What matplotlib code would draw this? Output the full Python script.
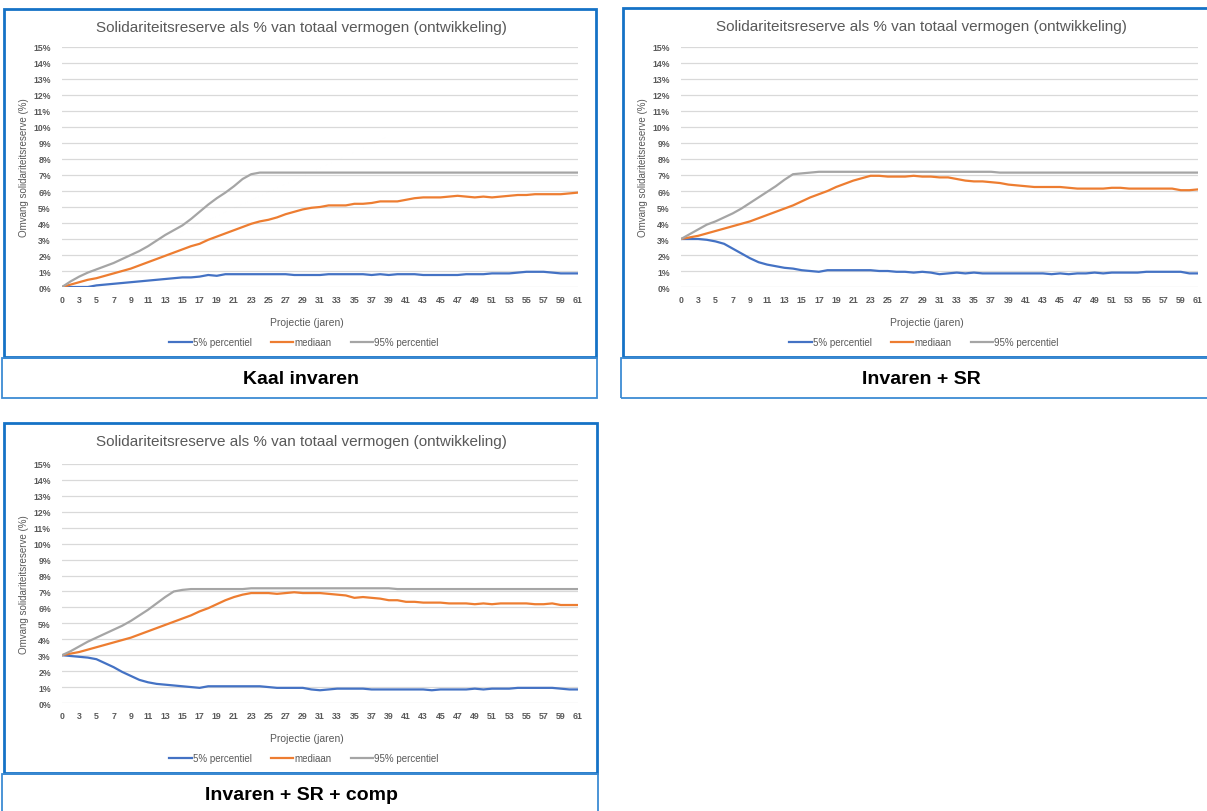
import numpy as np
import matplotlib
matplotlib.use("Agg")
import matplotlib.pyplot as plt
from matplotlib.patches import Rectangle
from matplotlib.lines import Line2D

plt.rcParams['font.family'] = ['Liberation Sans', 'DejaVu Sans']

W, H = 1207, 812

# categories (61 points), labelled every second one
x_labels = ['0'] + [str(v) for v in range(3, 62, 2)]
n = 61

# Kaal invaren
p5_kaal = [0, 0, 0, 0, 0.1, 0.15, 0.2, 0.25, 0.3, 0.35, 0.4, 0.45, 0.5, 0.55, 0.6, 0.6,
           0.65, 0.75, 0.7, 0.8, 0.8, 0.8, 0.8, 0.8, 0.8, 0.8, 0.8, 0.75, 0.75, 0.75, 0.75,
           0.8, 0.8, 0.8, 0.8, 0.8, 0.75, 0.8, 0.75, 0.8, 0.8, 0.8, 0.75, 0.75, 0.75, 0.75,
           0.75, 0.8, 0.8, 0.8, 0.85, 0.85, 0.85, 0.9, 0.95, 0.95, 0.95, 0.9, 0.85, 0.85, 0.85]
med_kaal = [0, 0.15, 0.3, 0.45, 0.55, 0.7, 0.85, 1.0, 1.15, 1.35, 1.55, 1.75, 1.95, 2.15,
            2.35, 2.55, 2.7, 2.95, 3.15, 3.35, 3.55, 3.75, 3.95, 4.1, 4.2, 4.35, 4.55, 4.7,
            4.85, 4.95, 5.0, 5.1, 5.1, 5.1, 5.2, 5.2, 5.25, 5.35, 5.35, 5.35, 5.45, 5.55,
            5.6, 5.6, 5.6, 5.65, 5.7, 5.65, 5.6, 5.65, 5.6, 5.65, 5.7, 5.75, 5.75, 5.8,
            5.8, 5.8, 5.8, 5.85, 5.9]
p95_kaal = [0, 0.35, 0.65, 0.9, 1.1, 1.3, 1.5, 1.75, 2.0, 2.25, 2.55, 2.9, 3.25, 3.55,
            3.85, 4.25, 4.7, 5.15, 5.55, 5.9, 6.3, 6.75, 7.05] + [7.15] * 38

# Invaren + SR
p5_sr = [3.0, 3.0, 3.0, 2.95, 2.85, 2.7, 2.4, 2.1, 1.8, 1.55, 1.4, 1.3, 1.2, 1.15, 1.05,
         1.0, 0.95, 1.05, 1.05, 1.05, 1.05, 1.05, 1.05, 1.0, 1.0, 0.95, 0.95, 0.9, 0.95,
         0.9, 0.8, 0.85, 0.9, 0.85, 0.9, 0.85, 0.85, 0.85, 0.85, 0.85, 0.85, 0.85, 0.85,
         0.8, 0.85, 0.8, 0.85, 0.85, 0.9, 0.85, 0.9, 0.9, 0.9, 0.9, 0.95, 0.95, 0.95,
         0.95, 0.95, 0.85, 0.85]
med_sr = [3.0, 3.1, 3.2, 3.35, 3.5, 3.65, 3.8, 3.95, 4.1, 4.3, 4.5, 4.7, 4.9, 5.1, 5.35,
          5.6, 5.8, 6.0, 6.25, 6.45, 6.65, 6.8, 6.95, 6.95, 6.9, 6.9, 6.9, 6.95, 6.9, 6.9,
          6.85, 6.85, 6.75, 6.65, 6.6, 6.6, 6.55, 6.5, 6.4, 6.35, 6.3, 6.25, 6.25, 6.25,
          6.25, 6.2, 6.15, 6.15, 6.15, 6.15, 6.2, 6.2, 6.15, 6.15, 6.15, 6.15, 6.15, 6.15,
          6.05, 6.05, 6.1]
p95_sr = [3.0, 3.3, 3.6, 3.9, 4.1, 4.35, 4.6, 4.9, 5.25, 5.6, 5.95, 6.3, 6.7, 7.05, 7.1,
          7.15] + [7.2] * 21 + [7.15] * 24

# Invaren + SR + comp
p5_comp = [3.0, 2.95, 2.9, 2.85, 2.75, 2.5, 2.25, 1.95, 1.7, 1.45, 1.3, 1.2, 1.15, 1.1,
           1.05, 1.0, 0.95, 1.05, 1.05, 1.05, 1.05, 1.05, 1.05, 1.05, 1.0, 0.95, 0.95,
           0.95, 0.95, 0.85, 0.8, 0.85, 0.9, 0.9, 0.9, 0.9, 0.85, 0.85, 0.85, 0.85, 0.85,
           0.85, 0.85, 0.8, 0.85, 0.85, 0.85, 0.85, 0.9, 0.85, 0.9, 0.9, 0.9, 0.95, 0.95,
           0.95, 0.95, 0.95, 0.9, 0.85, 0.85]
med_comp = [3.0, 3.1, 3.2, 3.35, 3.5, 3.65, 3.8, 3.95, 4.1, 4.3, 4.5, 4.7, 4.9, 5.1, 5.3,
            5.5, 5.75, 5.95, 6.2, 6.45, 6.65, 6.8, 6.9, 6.9, 6.9, 6.85, 6.9, 6.95, 6.9,
            6.9, 6.9, 6.85, 6.8, 6.75, 6.6, 6.65, 6.6, 6.55, 6.45, 6.45, 6.35, 6.35, 6.3,
            6.3, 6.3, 6.25, 6.25, 6.25, 6.2, 6.25, 6.2, 6.25, 6.25, 6.25, 6.25, 6.2, 6.2,
            6.25, 6.15, 6.15, 6.15]
p95_comp = [3.0, 3.25, 3.55, 3.85, 4.1, 4.35, 4.6, 4.85, 5.15, 5.5, 5.85, 6.25, 6.65,
            7.0, 7.1, 7.15] + [7.15] * 6 + [7.2] * 17 + [7.15] * 22

series_names = ['5% percentiel', 'mediaan', '95% percentiel']
colors = ['#4472C4', '#ED7D31', '#A5A5A5']
captions = ['Kaal invaren', 'Invaren + SR', 'Invaren + SR + comp']
title = 'Solidariteitsreserve als % van totaal vermogen (ontwikkeling)'
ylabel = 'Omvang solidariteitsreserve (%)'
xlabel = 'Projectie (jaren)'

text_col = '#595959'
border_col = '#1572C6'


def fx(x):
    return x / W


def fy(y):
    return 1 - y / H


def box(fig, l, t, r, b, lw, col):
    fig.patches.append(Rectangle((fx(l), fy(b)), fx(r - l), (b - t) / H, fill=False,
                                 edgecolor=col, linewidth=lw, transform=fig.transFigure))


fig = plt.figure(figsize=(W / 100, H / 100), dpi=100)

# pixel layout: x of first point, x of last point, y of 0%, y of 15%,
# box left, box top, box right, centre of title/caption
panels = [
    (62, 578, 288, 48, 4, 10, 596, 301, (p5_kaal, med_kaal, p95_kaal)),
    (681, 1198, 288, 48, 623, 9, 1215, 921, (p5_sr, med_sr, p95_sr)),
    (62, 578, 704, 465, 4, 424, 597, 301, (p5_comp, med_comp, p95_comp)),
]

for k, (x0, x1, y0, y15, bl, bt, br, cx, data) in enumerate(panels):
    ax = fig.add_axes([fx(x0), fy(y0), (x1 - x0) / W, (y0 - y15) / H])
    xs = np.arange(n)
    for vals, c, name in zip(data, colors, series_names):
        ax.plot(xs, vals, color=c, lw=1.6, label=name, solid_capstyle='round')
    ax.set_xlim(0, n - 1)
    ax.set_ylim(0, 15)
    ax.set_yticks(range(16))
    ax.set_yticklabels([f'{v}%' for v in range(16)])
    ax.set_xticks(xs[::2])
    ax.set_xticklabels(x_labels)
    ax.grid(axis='y', color='#D9D9D9', lw=0.9)
    ax.set_axisbelow(True)
    for s in ax.spines.values():
        s.set_visible(False)
    ax.tick_params(length=0, labelsize=6.3, labelcolor=text_col)
    ax.tick_params(axis='y', pad=8)
    ax.tick_params(axis='x', pad=6)
    for lab in ax.get_xticklabels() + ax.get_yticklabels():
        lab.set_fontweight('bold')

    fig.text(fx(cx), fy(bt + 18), title, ha='center', va='center', fontsize=11, color=text_col)
    fig.text(fx(bl + 20), fy((y0 + y15) / 2), ylabel, rotation=90, ha='center', va='center',
             fontsize=7, color=text_col)
    fig.text(fx(cx + 6), fy(y0 + 35), xlabel, ha='center', va='center',
             fontsize=7.5, color=text_col)
    handles = [Line2D([], [], color=c, lw=1.6) for c in colors]
    fig.legend(handles, series_names, loc='center', ncol=3,
               bbox_to_anchor=(fx(cx + 3), fy(y0 + 55)), frameon=False,
               fontsize=7, handlelength=2.3, handletextpad=0.1, columnspacing=2.0,
               labelcolor=text_col)

    # chart border and caption box
    bb = y0 + 70
    box(fig, bl, bt, br, bb, 2.0, border_col)
    box(fig, bl - 2, bb + 1, br + 1, bb + 41, 1.3, '#3D8BD3')
    fig.text(fx(cx), fy(bb + 22), captions[k], ha='center', va='center',
             fontsize=14, fontweight='bold', color='black')

fig.savefig('out.png', dpi=100)
